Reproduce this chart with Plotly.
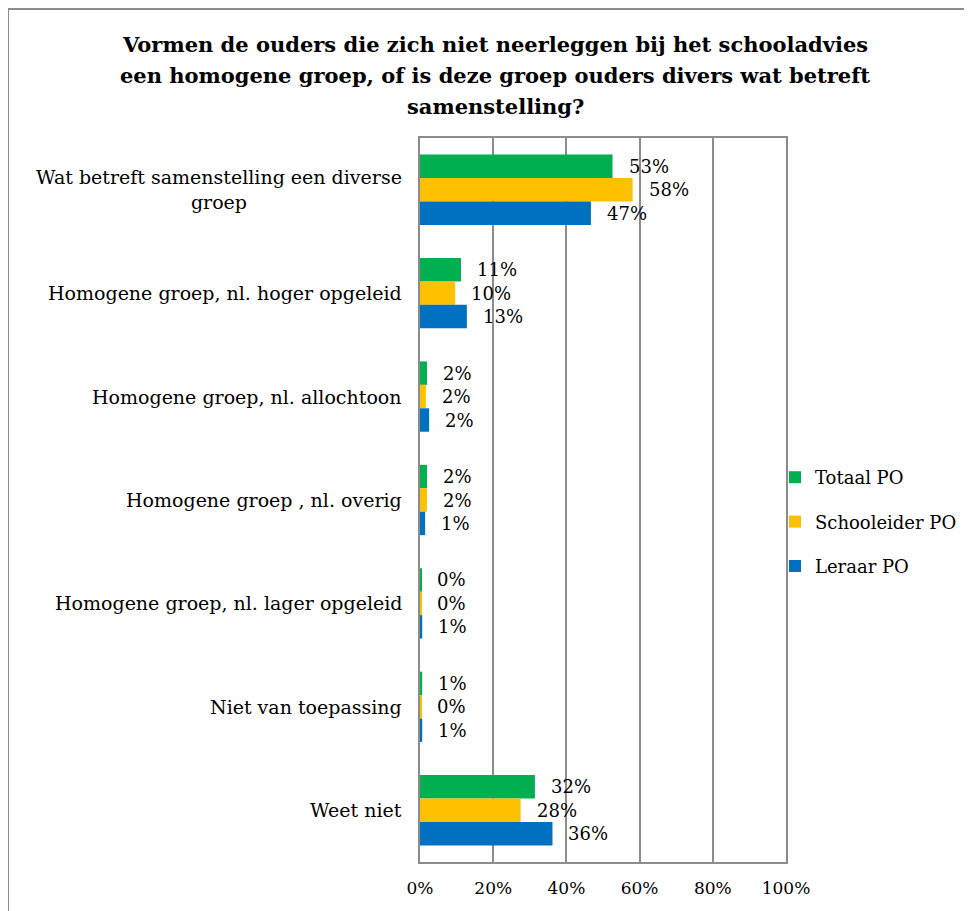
import plotly.graph_objects as go

categories = [
    "Wat betreft samenstelling een diverse<br>groep",
    "Homogene groep, nl. hoger opgeleid",
    "Homogene groep, nl. allochtoon",
    "Homogene groep , nl. overig",
    "Homogene groep, nl. lager opgeleid",
    "Niet van toepassing",
    "Weet niet",
]
series_names = ["Totaal PO", "Schooleider PO", "Leraar PO"]
totaal = [52.6, 11.2, 1.9, 1.9, 0.4, 0.6, 31.4]
schoolleider = [58.1, 9.6, 1.6, 1.9, 0.4, 0.3, 27.5]
leraar = [46.7, 12.8, 2.5, 1.4, 0.6, 0.6, 36.2]
totaal_labels = ["53%", "11%", "2%", "2%", "0%", "1%", "32%"]
schoolleider_labels = ["58%", "10%", "2%", "2%", "0%", "0%", "28%"]
leraar_labels = ["47%", "13%", "2%", "1%", "1%", "1%", "36%"]
x_ticks = [0, 20, 40, 60, 80, 100]
x_tick_labels = ["0%", "20%", "40%", "60%", "80%", "100%"]
title_lines = [
    "Vormen de ouders die zich niet neerleggen bij het schooladvies",
    "een homogene groep, of is deze groep ouders divers wat betreft",
    "samenstelling?",
]

colors = ["#00B050", "#FFC000", "#0070C0"]
FONT = "DejaVu Serif"

# figure coordinates (page has 8px body margin, so screen = figure + 8)
W, H = 972, 911
L, R, T, B = 412, 778, 130, 854


def px_x(p):
    return (p - L) / (R - L)


def px_y(p):
    return (B - p) / (B - T)


BARGAP = 0.32
band = (B - T) / len(categories)
bar_h = band * (1 - BARGAP) / 3

fig = go.Figure()
all_vals = [totaal, schoolleider, leraar]
all_labels = [totaal_labels, schoolleider_labels, leraar_labels]
for i, (name, vals, labels, col) in enumerate(zip(series_names, all_vals, all_labels, colors)):
    fig.add_trace(go.Bar(
        y=categories, x=vals, name=name, orientation="h", legendgroup=name,
        marker=dict(color=col, line=dict(width=0)),
    ))
    for cat, v, lab in zip(categories, vals, labels):
        fig.add_annotation(
            x=v, xref="x", y=cat, yref="y", text=lab, showarrow=False,
            xanchor="left", yanchor="middle", xshift=14, yshift=(1 - i) * bar_h,
            font=dict(family=FONT, size=18, color="#000000"),
        )

for cat in categories:
    fig.add_annotation(
        x=0, xref="paper", xshift=-16, y=cat, yref="y",
        text=cat, showarrow=False, xanchor="right", align="center",
        font=dict(family=FONT, size=19, color="#000000"),
    )

for k, (line, yc) in enumerate(zip(title_lines, [37, 68, 99])):
    fig.add_annotation(
        x=px_x(487), xref="paper", y=px_y(yc), yref="paper", text="<b>" + line + "</b>",
        showarrow=False, xanchor="center", yanchor="middle",
        font=dict(family=FONT, size=21, color="#000000"),
    )

# outer chart border
fig.add_shape(type="rect", xref="paper", yref="paper",
              x0=px_x(0), x1=px_x(1000), y0=px_y(950), y1=px_y(1),
              line=dict(color="#8C8C8C", width=2), fillcolor="rgba(0,0,0,0)", layer="below")

fig.update_layout(
    width=W, height=H,
    margin=dict(l=L, r=W - R, t=T, b=H - B),
    paper_bgcolor="white", plot_bgcolor="white",
    barmode="group", bargap=BARGAP, bargroupgap=0,
    legend=dict(x=px_x(767), xanchor="left", y=px_y(514), yanchor="middle", traceorder="grouped",
                font=dict(family=FONT, size=18, color="#000000"), itemwidth=30,
                tracegroupgap=18, bgcolor="rgba(0,0,0,0)"),
    showlegend=True,
)
fig.update_xaxes(range=[0, 100], tickvals=x_ticks, ticktext=x_tick_labels,
                 showgrid=True, gridcolor="#8C8C8C", gridwidth=2,
                 showline=True, linecolor="#8C8C8C", linewidth=2, mirror=True,
                 ticks="", ticklabelstandoff=10,
                 tickfont=dict(family=FONT, size=17, color="#000000"), zeroline=False)
fig.update_yaxes(autorange="reversed", showticklabels=False, ticks="",
                 showline=True, linecolor="#8C8C8C", linewidth=2, mirror=True, showgrid=False)

fig.write_html("out.html")
